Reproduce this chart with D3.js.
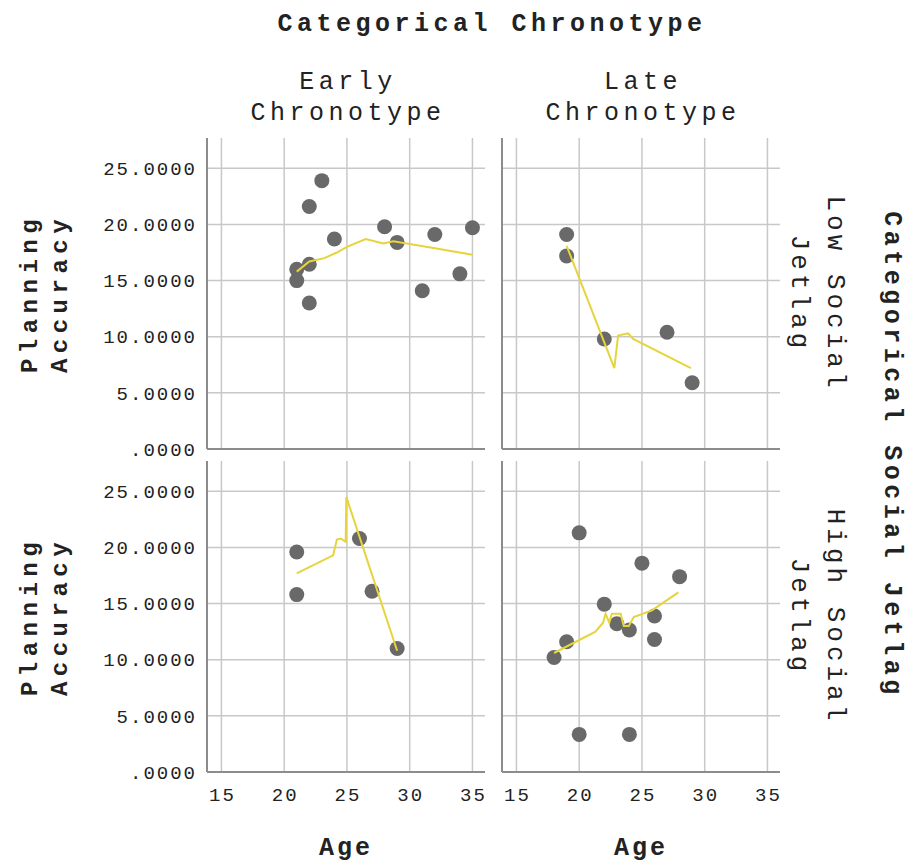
<!DOCTYPE html>
<html>
<head>
<meta charset="utf-8">
<script src="https://cdn.jsdelivr.net/npm/d3@7"></script>
<style>
  body { margin: 0; background: #fff; }
  text { font-family: "Liberation Mono", "DejaVu Sans Mono", monospace; fill: #222; }
</style>
</head>
<body>
<div id="graf"></div>
<script>
// datos
var colCats = ['Early|Chronotype', 'Late|Chronotype']
var rowCats = ['Low Social|Jetlag', 'High Social|Jetlag']
var xTicks = [15, 20, 25, 30, 35]
var yTicks = [0, 5, 10, 15, 20, 25]

// Early / Low
var ageEarlyLow = [23, 22, 24, 28, 29, 32, 35, 21, 22, 21, 22, 31, 34]
var accEarlyLow = [23.9, 21.6, 18.7, 19.8, 18.4, 19.1, 19.7, 16.0, 16.45, 15.0, 13.0, 14.1, 15.6]
var fitXEarlyLow = [21, 22, 23.2, 24.2, 25, 26.5, 27.9, 28.7, 31.9, 35]
var fitYEarlyLow = [15.8, 16.7, 17.0, 17.5, 18.0, 18.7, 18.3, 18.5, 17.9, 17.3]

// Late / Low
var ageLateLow = [19, 19, 22, 27, 29]
var accLateLow = [19.1, 17.2, 9.8, 10.4, 5.9]
var fitXLateLow = [19, 22.8, 23.1, 23.9, 24.3, 28.9]
var fitYLateLow = [18.1, 7.2, 10.1, 10.3, 9.8, 7.2]

// Early / High
var ageEarlyHigh = [21, 21, 26, 27, 29]
var accEarlyHigh = [19.6, 15.8, 20.8, 16.1, 11.0]
var fitXEarlyHigh = [21, 23.9, 24.2, 24.5, 24.9, 24.95, 29]
var fitYEarlyHigh = [17.7, 19.3, 20.7, 20.8, 20.5, 24.5, 10.8]

// Late / High
var ageLateHigh = [20, 18, 19, 22, 23, 24, 25, 26, 26, 28, 20, 24]
var accLateHigh = [21.3, 10.2, 11.6, 14.95, 13.2, 12.65, 18.6, 13.9, 11.8, 17.4, 3.35, 3.35]
var fitXLateHigh = [18, 19.04, 21.3, 21.9, 22.1, 22.4, 22.6, 23.3, 23.55, 23.95, 24.35, 25.8, 27.9]
var fitYLateHigh = [10.6, 11.2, 12.5, 13.3, 14.1, 13.3, 14.1, 14.1, 13.0, 13.0, 13.8, 14.4, 16.0]

var panels = [
  { row: 0, col: 0, ages: ageEarlyLow, acc: accEarlyLow, fx: fitXEarlyLow, fy: fitYEarlyLow },
  { row: 0, col: 1, ages: ageLateLow, acc: accLateLow, fx: fitXLateLow, fy: fitYLateLow },
  { row: 1, col: 0, ages: ageEarlyHigh, acc: accEarlyHigh, fx: fitXEarlyHigh, fy: fitYEarlyHigh },
  { row: 1, col: 1, ages: ageLateHigh, acc: accLateHigh, fx: fitXLateHigh, fy: fitYLateHigh }
]

ancho_total = 910
alto_total = 865
panelLeft = [207, 502]
panelTop = [138, 461]
ancho = 278
alto = 311

svg = d3.select('#graf').append('svg')
  .attr('width', ancho_total)
  .attr('height', alto_total)

x = d3.scaleLinear().domain([13.85, 36]).range([0, ancho])
y = d3.scaleLinear().domain([0, 27.7]).range([alto, 0])

fmtY = v => v === 0 ? '.0000' : d3.format('.4f')(v)

lineaGen = d3.line().x(d => x(d[0])).y(d => y(d[1]))

panels.forEach(p => {
  g = svg.append('g')
    .attr('transform', `translate(${panelLeft[p.col]}, ${panelTop[p.row]})`)

  // rejilla
  g.selectAll('.vgrid').data(xTicks).enter().append('line')
    .attr('x1', d => x(d)).attr('x2', d => x(d))
    .attr('y1', 0).attr('y2', alto)
    .attr('stroke', '#c8c8c8').attr('stroke-width', 1.5)
  g.selectAll('.hgrid').data(yTicks.filter(d => d > 0)).enter().append('line')
    .attr('x1', 0).attr('x2', ancho)
    .attr('y1', d => y(d)).attr('y2', d => y(d))
    .attr('stroke', '#c8c8c8').attr('stroke-width', 1.5)

  // ejes
  g.append('line').attr('x1', 0).attr('x2', 0).attr('y1', 0).attr('y2', alto)
    .attr('stroke', '#8c8c8c').attr('stroke-width', 2)
  g.append('line').attr('x1', 0).attr('x2', ancho).attr('y1', alto).attr('y2', alto)
    .attr('stroke', '#8c8c8c').attr('stroke-width', 2)

  if (p.col === 0) {
    g.selectAll('.ylab').data(yTicks).enter().append('text')
      .attr('x', -10).attr('y', d => y(d)).attr('dy', '0.35em')
      .attr('text-anchor', 'end')
      .style('font-size', '19px').style('letter-spacing', '2px')
      .text(fmtY)
  }
  if (p.row === 1) {
    g.selectAll('.xlab').data(xTicks).enter().append('text')
      .attr('x', d => x(d) + 1).attr('y', alto + 22).attr('dy', '0.35em')
      .attr('text-anchor', 'middle')
      .style('font-size', '19px').style('letter-spacing', '2px')
      .text(d => d)
  }

  // puntos
  pts = p.ages.map((a, i) => [a, p.acc[i]])
  g.selectAll('circle').data(pts).enter().append('circle')
    .attr('cx', d => x(d[0])).attr('cy', d => y(d[1]))
    .attr('r', 7.5).attr('fill', '#696969')

  // linea de ajuste
  fit = p.fx.map((a, i) => [a, p.fy[i]])
  g.append('path').attr('d', lineaGen(fit))
    .attr('fill', 'none').attr('stroke', '#e6d43c').attr('stroke-width', 2)
})

// titulos
svg.append('text').attr('x', 492).attr('y', 31).attr('text-anchor', 'middle')
  .style('font-size', '25px').style('font-weight', 'bold').style('letter-spacing', '4.5px')
  .text('Categorical Chronotype')

colCats.forEach((c, i) => {
  cx = panelLeft[i] + ancho / 2
  c.split('|').forEach((t, j) => {
    svg.append('text').attr('x', cx + 2).attr('y', 89 + j * 31).attr('text-anchor', 'middle')
      .style('font-size', '25px').style('letter-spacing', '4.5px')
      .text(t)
  })
})

rowCats.forEach((r, i) => {
  cy = panelTop[i] + alto / 2
  r.split('|').forEach((t, j) => {
    svg.append('text')
      .attr('transform', `translate(${828 - j * 36}, ${cy}) rotate(90)`)
      .attr('text-anchor', 'middle')
      .style('font-size', '26px').style('letter-spacing', '4px')
      .text(t)
  })
  // eje y
  ;['Planning', 'Accuracy'].forEach((t, j) => {
    svg.append('text')
      .attr('transform', `translate(${37 + j * 30}, ${cy}) rotate(-90)`)
      .attr('text-anchor', 'middle')
      .style('font-size', '24px').style('font-weight', 'bold').style('letter-spacing', '5.5px')
      .text(t)
  })
})

svg.append('text')
  .attr('transform', `translate(885, ${(panelTop[0] + panelTop[1] + alto) / 2}) rotate(90)`)
  .attr('text-anchor', 'middle')
  .style('font-size', '25px').style('font-weight', 'bold').style('letter-spacing', '4.5px')
  .text('Categorical Social Jetlag')

panelLeft.forEach(l => {
  svg.append('text').attr('x', l + ancho / 2).attr('y', 855).attr('text-anchor', 'middle')
    .style('font-size', '25px').style('font-weight', 'bold').style('letter-spacing', '3px')
    .text('Age')
})
</script>
</body>
</html>
